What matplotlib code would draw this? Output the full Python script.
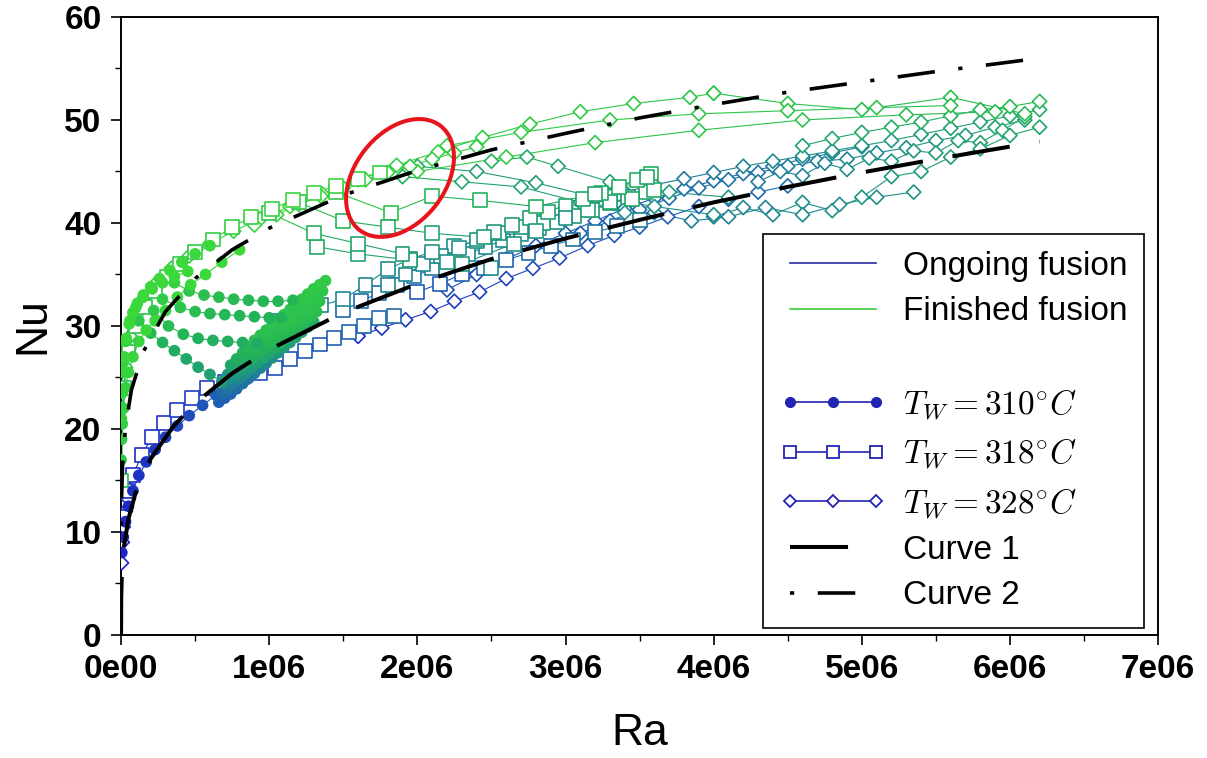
import numpy as np
import matplotlib
matplotlib.use('Agg')
import matplotlib.pyplot as plt
from matplotlib.colors import LinearSegmentedColormap
from matplotlib.collections import LineCollection
from matplotlib.lines import Line2D
from matplotlib.patches import Ellipse
from matplotlib.transforms import ScaledTranslation
from matplotlib.ticker import MultipleLocator, FuncFormatter

plt.rcParams['font.family'] = ['Liberation Sans', 'DejaVu Sans']
plt.rcParams['mathtext.fontset'] = 'cm'
plt.rcParams['lines.scale_dashes'] = False

# Ra in units of 1e6, Nu, and melt state f (0 = ongoing fusion, 1 = finished)
# ---- T_W = 310 C (filled circles)
ra_310_low = [0.005, 0.015, 0.03, 0.05, 0.08, 0.12, 0.17, 0.23, 0.30, 0.38, 0.46, 0.55, 0.64]
nu_310_low = [8.0, 9.5, 11.0, 12.5, 14.0, 15.5, 16.8, 18.0, 19.2, 20.3, 21.3, 22.3, 23.3]
f_310_low = [0.0, 0.0, 0.02, 0.04, 0.06, 0.08, 0.10, 0.12, 0.15, 0.18, 0.21, 0.25, 0.28]

ra_310_b1 = [0.66, 0.70, 0.74, 0.78, 0.82, 0.86, 0.90, 0.94, 0.98, 1.02, 1.06, 1.10, 1.14, 1.18, 1.22, 1.26, 1.30]
nu_310_b1 = [22.6, 23.0, 23.4, 23.9, 24.4, 24.9, 25.4, 25.9, 26.4, 26.9, 27.4, 27.9, 28.4, 28.9, 29.4, 29.9, 30.4]
f_310_b1 = [0.30, 0.32, 0.34, 0.37, 0.40, 0.43, 0.46, 0.50, 0.54, 0.58, 0.62, 0.65, 0.68, 0.70, 0.72, 0.74, 0.76]

ra_310_b4 = [0.68, 0.72, 0.76, 0.80, 0.84, 0.88, 0.92, 0.96, 1.00, 1.04, 1.08, 1.12, 1.16, 1.20, 1.24, 1.28, 1.32]
nu_310_b4 = [23.5, 23.9, 24.4, 24.9, 25.4, 25.9, 26.4, 26.9, 27.4, 27.9, 28.4, 28.9, 29.4, 29.9, 30.4, 30.9, 31.4]
f_310_b4 = [0.38, 0.42, 0.47, 0.52, 0.57, 0.62, 0.66, 0.70, 0.73, 0.76, 0.78, 0.80, 0.82, 0.83, 0.84, 0.85, 0.86]

ra_310_b2 = [0.70, 0.74, 0.78, 0.82, 0.86, 0.90, 0.94, 0.98, 1.02, 1.06, 1.10, 1.14, 1.18, 1.22, 1.26, 1.30, 1.34]
nu_310_b2 = [24.4, 24.9, 25.4, 25.9, 26.4, 26.9, 27.4, 27.9, 28.4, 28.9, 29.4, 29.9, 30.4, 30.9, 31.4, 31.9, 32.4]
f_310_b2 = [0.50, 0.56, 0.62, 0.67, 0.71, 0.75, 0.78, 0.80, 0.82, 0.83, 0.84, 0.85, 0.86, 0.87, 0.88, 0.88, 0.88]

ra_310_b5 = [0.72, 0.76, 0.80, 0.84, 0.88, 0.92, 0.96, 1.00, 1.04, 1.08, 1.12, 1.16, 1.20, 1.24, 1.28, 1.32, 1.36]
nu_310_b5 = [25.3, 25.9, 26.4, 26.9, 27.5, 28.0, 28.5, 29.0, 29.5, 30.0, 30.5, 31.0, 31.5, 32.0, 32.5, 33.0, 33.4]
f_310_b5 = [0.62, 0.68, 0.73, 0.77, 0.80, 0.82, 0.84, 0.85, 0.86, 0.87, 0.88, 0.88, 0.89, 0.89, 0.90, 0.90, 0.90]

ra_310_b3 = [0.74, 0.78, 0.82, 0.86, 0.90, 0.94, 0.98, 1.02, 1.06, 1.10, 1.14, 1.18, 1.22, 1.26, 1.30, 1.34, 1.38]
nu_310_b3 = [26.2, 26.8, 27.4, 28.0, 28.6, 29.1, 29.6, 30.1, 30.6, 31.1, 31.6, 32.1, 32.6, 33.1, 33.6, 34.0, 34.4]
f_310_b3 = [0.72, 0.76, 0.80, 0.83, 0.85, 0.86, 0.87, 0.88, 0.88, 0.89, 0.89, 0.90, 0.90, 0.91, 0.91, 0.92, 0.92]

ra_310_up = [0.0, 0.003, 0.008, 0.015, 0.03, 0.05, 0.08, 0.12, 0.17, 0.23, 0.30, 0.38, 0.47, 0.57, 0.68, 0.80]
nu_310_up = [17.0, 19.0, 20.5, 22.0, 24.0, 25.5, 27.0, 28.5, 29.6, 30.5, 31.5, 32.8, 34.0, 35.0, 36.2, 37.4]
f_310_up = [0.92, 0.93, 0.94, 0.95, 0.96, 0.97, 0.98, 0.98, 0.99, 0.99, 1.0, 1.0, 1.0, 1.0, 1.0, 1.0]

ra_310_up2 = [0.005, 0.015, 0.03, 0.06, 0.10, 0.15, 0.21, 0.28, 0.36, 0.45]
nu_310_up2 = [23.5, 26.5, 28.5, 30.5, 31.8, 32.8, 33.6, 34.2, 34.8, 35.3]
f_310_up2 = [0.95, 0.96, 0.97, 0.98, 0.99, 1.0, 1.0, 1.0, 1.0, 1.0]

ra_310_up3 = [0.002, 0.006, 0.012, 0.02, 0.035, 0.055, 0.08, 0.11, 0.15, 0.20, 0.26, 0.33, 0.41, 0.50, 0.60]
nu_310_up3 = [21.0, 23.5, 25.5, 27.0, 28.8, 30.2, 31.3, 32.2, 33.0, 33.8, 34.6, 35.4, 36.2, 37.0, 37.8]
f_310_up3 = [0.96, 0.97, 0.98, 0.99, 1.0, 1.0, 1.0, 1.0, 1.0, 1.0, 1.0, 1.0, 1.0, 1.0, 1.0]

ra_310_ta = [0.36, 0.46, 0.56, 0.66, 0.76, 0.86, 0.96, 1.06, 1.16]
nu_310_ta = [34.2, 33.4, 33.0, 32.8, 32.6, 32.5, 32.4, 32.4, 32.5]
f_310_ta = [0.95, 0.90, 0.87, 0.85, 0.84, 0.83, 0.82, 0.82, 0.82]

ra_310_tb = [0.28, 0.40, 0.50, 0.60, 0.70, 0.80, 0.90, 1.00, 1.08]
nu_310_tb = [32.6, 31.8, 31.4, 31.2, 31.1, 31.0, 30.9, 30.8, 30.8]
f_310_tb = [0.93, 0.88, 0.85, 0.83, 0.82, 0.81, 0.80, 0.80, 0.80]

ra_310_tc = [0.22, 0.32, 0.42, 0.52, 0.62, 0.72, 0.82, 0.92]
nu_310_tc = [31.5, 30.0, 29.2, 28.8, 28.6, 28.5, 28.4, 28.3]
f_310_tc = [0.92, 0.85, 0.81, 0.79, 0.78, 0.77, 0.76, 0.75]

ra_310_td = [0.12, 0.20, 0.28, 0.36, 0.44, 0.52, 0.60, 0.68]
nu_310_td = [30.5, 29.3, 28.4, 27.6, 26.8, 26.0, 25.3, 24.6]
f_310_td = [0.90, 0.83, 0.79, 0.76, 0.73, 0.70, 0.68, 0.66]

# ---- T_W = 318 C (open squares)
ra_318_r1 = [0.01, 0.04, 0.08, 0.14, 0.21, 0.29, 0.38, 0.48, 0.58, 0.70, 0.82, 0.94, 1.04, 1.14, 1.24, 1.34, 1.44, 1.54, 1.64, 1.74, 1.84]
nu_318_r1 = [11.5, 14.0, 15.5, 17.5, 19.2, 20.6, 21.8, 23.0, 24.0, 24.6, 25.0, 25.4, 25.9, 26.8, 27.6, 28.2, 28.8, 29.4, 30.0, 30.8, 31.0]
f_318_r1 = [0.0, 0.0, 0.02, 0.04, 0.06, 0.08, 0.10, 0.12, 0.14, 0.16, 0.18, 0.20, 0.22, 0.24, 0.26, 0.28, 0.30, 0.32, 0.34, 0.36, 0.38]

ra_318_r2 = [1.50, 1.62, 1.74, 1.86, 1.98, 2.10, 2.22, 2.34, 2.46, 2.58, 2.70, 2.82, 2.94, 3.06, 3.18, 3.30, 3.42, 3.54]
nu_318_r2 = [31.5, 32.4, 33.2, 34.0, 34.8, 35.6, 36.3, 37.0, 37.7, 38.3, 38.9, 39.5, 40.1, 40.7, 41.3, 41.9, 42.5, 43.0]
f_318_r2 = [0.35, 0.37, 0.39, 0.41, 0.43, 0.45, 0.47, 0.49, 0.51, 0.53, 0.55, 0.57, 0.59, 0.61, 0.63, 0.65, 0.67, 0.69]

ra_318_r3 = [1.80, 1.92, 2.04, 2.16, 2.28, 2.40, 2.52, 2.64, 2.76, 2.88, 3.00, 3.12, 3.24, 3.36, 3.48, 3.58]
nu_318_r3 = [34.0, 35.0, 36.0, 36.8, 37.6, 38.4, 39.1, 39.8, 40.5, 41.1, 41.7, 42.3, 42.9, 43.5, 44.2, 44.8]
f_318_r3 = [0.50, 0.52, 0.54, 0.56, 0.58, 0.60, 0.62, 0.64, 0.66, 0.68, 0.70, 0.72, 0.74, 0.76, 0.78, 0.80]

ra_318_r4 = [2.0, 2.15, 2.3, 2.45, 2.6, 2.75, 2.9, 3.05, 3.2, 3.35, 3.5]
nu_318_r4 = [33.3, 34.1, 35.0, 35.6, 36.4, 37.1, 37.8, 38.4, 39.1, 39.7, 40.3]
f_318_r4 = [0.25, 0.27, 0.29, 0.31, 0.33, 0.35, 0.37, 0.39, 0.41, 0.43, 0.45]

ra_318_r5 = [1.05, 1.20, 1.35, 1.50, 1.65, 1.80, 1.95, 2.10]
nu_318_r5 = [30.5, 31.5, 32.0, 32.6, 34.0, 35.5, 36.5, 37.2]
f_318_r5 = [0.45, 0.47, 0.49, 0.51, 0.53, 0.55, 0.57, 0.59]

ra_318_r6 = [2.1, 2.25, 2.4, 2.55, 2.7, 2.85, 3.0, 3.15, 3.3, 3.45, 3.6]
nu_318_r6 = [36.8, 37.8, 38.2, 39.0, 39.6, 40.0, 40.8, 41.3, 42.0, 42.3, 43.2]
f_318_r6 = [0.55, 0.57, 0.59, 0.61, 0.63, 0.65, 0.67, 0.69, 0.71, 0.73, 0.75]

ra_318_up = [0.0, 0.02, 0.05, 0.10, 0.16, 0.23, 0.31, 0.40, 0.50, 0.62, 0.75, 0.88, 1.02, 1.16, 1.30, 1.45, 1.60, 1.75]
nu_318_up = [15.0, 24.0, 27.5, 30.0, 31.8, 33.4, 34.8, 36.0, 37.2, 38.4, 39.6, 40.6, 41.4, 42.2, 42.9, 43.6, 44.3, 44.9]
f_318_up = [0.85, 0.86, 0.87, 0.88, 0.89, 0.90, 0.91, 0.92, 0.93, 0.94, 0.95, 0.96, 0.97, 0.98, 0.98, 0.98, 0.97, 0.96]

ra_318_t1 = [1.45, 1.82, 2.10, 2.42, 2.80, 3.20, 3.55]
nu_318_t1 = [43.0, 41.0, 42.6, 42.2, 41.6, 42.8, 44.5]
f_318_t1 = [0.92, 0.88, 0.84, 0.80, 0.76, 0.72, 0.70]

ra_318_t2 = [1.32, 1.60, 1.95, 2.30, 2.65, 3.00]
nu_318_t2 = [37.7, 37.0, 36.4, 36.0, 38.0, 40.5]
f_318_t2 = [0.75, 0.70, 0.66, 0.62, 0.60, 0.58]

ra_318_t3 = [1.00, 1.30, 1.60, 1.90, 2.20, 2.50]
nu_318_t3 = [41.0, 39.0, 38.0, 37.0, 36.2, 35.6]
f_318_t3 = [0.90, 0.80, 0.72, 0.66, 0.60, 0.55]

ra_318_t4 = [1.20, 1.50, 1.80, 2.10, 2.45, 2.80]
nu_318_t4 = [42.0, 40.2, 39.6, 39.0, 38.6, 39.2]
f_318_t4 = [0.90, 0.82, 0.76, 0.70, 0.65, 0.62]

# ---- T_W = 328 C (open diamonds)
ra_328_r0 = [0.003, 0.008, 0.015, 0.03, 0.05]
nu_328_r0 = [7.0, 9.0, 10.5, 12.0, 13.2]
f_328_r0 = [0.0, 0.0, 0.0, 0.02, 0.04]

ra_328_r1 = [1.60, 1.76, 1.92, 2.09, 2.25, 2.42, 2.60, 2.78, 2.96, 3.15, 3.33, 3.50, 3.69, 3.90, 4.10, 4.30, 4.50]
nu_328_r1 = [29.0, 29.8, 30.6, 31.4, 32.4, 33.3, 34.6, 35.6, 36.6, 37.8, 38.8, 39.6, 40.6, 41.6, 42.3, 43.0, 43.6]
f_328_r1 = [0.05, 0.07, 0.09, 0.11, 0.13, 0.15, 0.17, 0.19, 0.21, 0.23, 0.25, 0.27, 0.29, 0.31, 0.33, 0.35, 0.37]

ra_328_r2 = [2.20, 2.40, 2.60, 2.80, 3.00, 3.20, 3.40, 3.60, 3.80, 4.00, 4.20, 4.40, 4.60, 4.80, 5.00]
nu_328_r2 = [33.5, 35.0, 36.5, 37.8, 39.0, 40.2, 41.4, 42.4, 43.3, 44.1, 44.8, 45.5, 46.2, 46.8, 47.4]
f_328_r2 = [0.20, 0.22, 0.24, 0.26, 0.28, 0.30, 0.32, 0.34, 0.36, 0.38, 0.40, 0.43, 0.46, 0.49, 0.52]

ra_328_r3 = [3.0, 3.2, 3.4, 3.6, 3.8, 4.0, 4.2, 4.4, 4.6, 4.8, 5.0, 5.2, 5.4, 5.6, 5.8, 6.0, 6.2]
nu_328_r3 = [41.5, 42.3, 43.0, 43.7, 44.3, 44.9, 45.5, 46.0, 46.5, 47.0, 47.5, 48.0, 48.6, 49.2, 49.8, 50.4, 51.0]
f_328_r3 = [0.35, 0.375, 0.40, 0.425, 0.45, 0.475, 0.50, 0.525, 0.55, 0.575, 0.60, 0.625, 0.65, 0.675, 0.70, 0.725, 0.75]

ra_328_r4 = [4.0, 4.2, 4.4, 4.6, 4.8, 5.0, 5.2, 5.4, 5.6, 5.8, 6.0, 6.2]
nu_328_r4 = [40.6, 41.5, 40.8, 42.0, 41.2, 42.5, 44.5, 45.0, 46.4, 47.2, 48.5, 49.3]
f_328_r4 = [0.50, 0.52, 0.54, 0.56, 0.58, 0.60, 0.62, 0.64, 0.66, 0.68, 0.70, 0.72]

ra_328_r5 = [4.6, 4.8, 5.0, 5.2, 5.4, 5.6, 5.8, 6.0, 6.2]
nu_328_r5 = [47.5, 48.2, 48.8, 49.3, 49.8, 50.4, 51.0, 51.3, 51.8]
f_328_r5 = [0.70, 0.72, 0.74, 0.76, 0.78, 0.80, 0.82, 0.84, 0.85]

ra_328_r6 = [3.6, 3.85, 4.1, 4.35, 4.6, 4.85, 5.1, 5.35]
nu_328_r6 = [41.0, 40.2, 40.6, 41.5, 40.8, 41.8, 42.5, 43.0]
f_328_r6 = [0.45, 0.48, 0.50, 0.52, 0.54, 0.56, 0.58, 0.60]

ra_328_r7 = [3.1, 3.3, 3.5, 3.7, 3.9, 4.1, 4.3, 4.5, 4.7, 4.9, 5.1, 5.3, 5.5, 5.7, 5.9, 6.1]
nu_328_r7 = [39.0, 40.2, 41.3, 42.4, 43.4, 44.2, 44.9, 45.5, 46.0, 46.2, 46.8, 47.3, 48.0, 48.5, 49.3, 50.0]
f_328_r7 = [0.30, 0.32, 0.34, 0.36, 0.38, 0.40, 0.42, 0.45, 0.48, 0.51, 0.54, 0.57, 0.60, 0.63, 0.66, 0.70]

ra_328_r8 = [4.3, 4.45, 4.6, 4.75, 4.9, 5.05, 5.2, 5.35, 5.5, 5.65, 5.8, 5.95, 6.1]
nu_328_r8 = [44.0, 45.0, 44.6, 45.8, 45.2, 46.3, 46.0, 47.0, 46.8, 48.0, 47.8, 49.0, 50.3]
f_328_r8 = [0.45, 0.47, 0.50, 0.52, 0.55, 0.57, 0.60, 0.62, 0.65, 0.67, 0.70, 0.72, 0.75]

ra_328_up = [0.0, 0.01, 0.03, 0.06, 0.10, 0.16, 0.24, 0.34, 0.46, 0.60, 0.76, 0.94, 1.14, 1.36, 1.60, 1.86, 2.14, 2.44, 2.76, 3.10, 3.46, 3.84, 4.0]
nu_328_up = [14.5, 22.0, 26.0, 29.0, 31.0, 32.8, 34.2, 35.6, 36.8, 38.0, 39.2, 40.4, 41.6, 42.8, 44.2, 45.6, 46.9, 48.3, 49.6, 50.8, 51.6, 52.2, 52.6]
f_328_up = [0.85, 0.87, 0.89, 0.90, 0.91, 0.92, 0.93, 0.94, 0.95, 0.96, 0.97, 0.98, 0.98, 0.98, 0.97, 0.96, 0.95, 0.94, 0.93, 0.92, 0.91, 0.90, 0.90]

ra_328_up2 = [0.9, 1.05, 1.2, 1.35, 1.5, 1.65, 1.8, 1.95, 2.1, 2.25, 2.4]
nu_328_up2 = [39.8, 40.8, 41.8, 42.6, 43.4, 44.2, 44.9, 45.5, 46.2, 46.8, 47.4]
f_328_up2 = [0.97, 0.97, 0.96, 0.96, 0.95, 0.95, 0.95, 0.94, 0.94, 0.93, 0.93]

ra_328_t1 = [2.0, 2.6, 3.2, 3.9, 4.6, 5.3, 5.9]
nu_328_t1 = [45.0, 46.4, 47.8, 49.0, 50.0, 50.5, 50.8]
f_328_t1 = [0.95, 0.93, 0.91, 0.90, 0.88, 0.86, 0.85]

ra_328_t2 = [4.0, 4.5, 5.0, 5.6, 6.1]
nu_328_t2 = [52.6, 51.6, 51.0, 52.2, 50.6]
f_328_t2 = [0.90, 0.88, 0.87, 0.86, 0.85]

ra_328_t3 = [2.2, 2.7, 3.3, 3.9, 4.5, 5.1, 5.6]
nu_328_t3 = [47.5, 48.8, 50.0, 50.6, 50.9, 51.2, 51.4]
f_328_t3 = [0.95, 0.94, 0.93, 0.92, 0.90, 0.88, 0.86]

ra_328_t4 = [2.0, 2.4, 2.8, 3.2, 3.6, 4.0]
nu_328_t4 = [45.5, 45.0, 43.9, 42.5, 41.6, 40.8]
f_328_t4 = [0.75, 0.70, 0.66, 0.62, 0.58, 0.55]

ra_328_t5 = [2.5, 2.74, 2.95, 3.3, 3.7, 4.1]
nu_328_t5 = [46.0, 46.4, 45.5, 44.0, 43.0, 42.5]
f_328_t5 = [0.80, 0.76, 0.72, 0.68, 0.64, 0.60]

ra_328_t6 = [1.9, 2.3, 2.7, 3.1, 3.4]
nu_328_t6 = [44.5, 44.0, 43.5, 42.0, 41.0]
f_328_t6 = [0.78, 0.72, 0.68, 0.64, 0.60]

# ---- correlation curves
curve1_ra = [0, 0.001, 0.005, 0.02, 0.05, 0.1, 0.2, 0.35, 0.5, 0.75, 1.0, 1.5, 2.0, 2.5, 3.0, 3.5, 4.0, 4.5, 5.0, 5.5, 6.2]
curve1_nu = [0, 3.5, 5.7, 8.6, 11.3, 13.9, 17.1, 20.2, 22.5, 25.4, 27.7, 31.3, 34.1, 36.5, 38.5, 40.3, 42.0, 43.5, 44.9, 46.2, 47.9]
curve2_ra = [0.001, 0.003, 0.01, 0.03, 0.07, 0.15, 0.3, 0.5, 0.75, 1.0, 1.5, 2.0, 2.5, 3.0, 3.5, 4.0, 4.5, 5.0, 5.5, 6.2]
curve2_nu = [10.6, 13.0, 16.4, 20.2, 23.8, 27.5, 31.4, 34.6, 37.4, 39.5, 42.7, 45.1, 47.1, 48.7, 50.2, 51.5, 52.7, 53.7, 54.7, 56.0]

legend_labels = ['Ongoing fusion', 'Finished fusion', ' ',
                 r'$T_W = 310^{\circ}C$', r'$T_W = 318^{\circ}C$', r'$T_W = 328^{\circ}C$',
                 'Curve 1', 'Curve 2']

cmap = LinearSegmentedColormap.from_list(
    'fusion', [(0.0, '#1e22c8'), (0.3, '#1f5fb4'), (0.55, '#1f8c8c'),
               (0.8, '#22b25a'), (1.0, '#3ad83a')])

fig = plt.figure(figsize=(12.07, 7.58), dpi=100)
ax = fig.add_axes([0.1003, 0.1623, 0.8592, 0.8153])


def draw_run(ra, nu, f, marker, size, filled):
    x = np.asarray(ra) * 1e6
    y = np.asarray(nu)
    f = np.asarray(f)
    pts = np.column_stack([x, y])
    segs = np.stack([pts[:-1], pts[1:]], axis=1)
    ax.add_collection(LineCollection(segs, colors=cmap((f[:-1] + f[1:]) / 2),
                                     linewidths=0.8, zorder=2))
    cols = cmap(f)
    ax.scatter(x, y, s=size, marker=marker,
               facecolors=cols if filled else 'white',
               edgecolors=cols, linewidths=1.2, zorder=3)


runs_328 = [(ra_328_r0, nu_328_r0, f_328_r0), (ra_328_r1, nu_328_r1, f_328_r1),
            (ra_328_r2, nu_328_r2, f_328_r2), (ra_328_r7, nu_328_r7, f_328_r7),
            (ra_328_r3, nu_328_r3, f_328_r3), (ra_328_r8, nu_328_r8, f_328_r8),
            (ra_328_r4, nu_328_r4, f_328_r4), (ra_328_r5, nu_328_r5, f_328_r5),
            (ra_328_r6, nu_328_r6, f_328_r6), (ra_328_t4, nu_328_t4, f_328_t4),
            (ra_328_t5, nu_328_t5, f_328_t5), (ra_328_t6, nu_328_t6, f_328_t6),
            (ra_328_t1, nu_328_t1, f_328_t1), (ra_328_t2, nu_328_t2, f_328_t2),
            (ra_328_t3, nu_328_t3, f_328_t3), (ra_328_up, nu_328_up, f_328_up),
            (ra_328_up2, nu_328_up2, f_328_up2)]
runs_318 = [(ra_318_r1, nu_318_r1, f_318_r1), (ra_318_r4, nu_318_r4, f_318_r4),
            (ra_318_r2, nu_318_r2, f_318_r2), (ra_318_r6, nu_318_r6, f_318_r6),
            (ra_318_r3, nu_318_r3, f_318_r3),
            (ra_318_r5, nu_318_r5, f_318_r5), (ra_318_t1, nu_318_t1, f_318_t1),
            (ra_318_t2, nu_318_t2, f_318_t2), (ra_318_t3, nu_318_t3, f_318_t3),
            (ra_318_t4, nu_318_t4, f_318_t4), (ra_318_up, nu_318_up, f_318_up)]
runs_310 = [(ra_310_low, nu_310_low, f_310_low), (ra_310_b1, nu_310_b1, f_310_b1),
            (ra_310_b4, nu_310_b4, f_310_b4), (ra_310_b2, nu_310_b2, f_310_b2),
            (ra_310_b5, nu_310_b5, f_310_b5), (ra_310_b3, nu_310_b3, f_310_b3),
            (ra_310_ta, nu_310_ta, f_310_ta), (ra_310_tb, nu_310_tb, f_310_tb),
            (ra_310_tc, nu_310_tc, f_310_tc), (ra_310_td, nu_310_td, f_310_td),
            (ra_310_up, nu_310_up, f_310_up), (ra_310_up2, nu_310_up2, f_310_up2),
            (ra_310_up3, nu_310_up3, f_310_up3)]

for r in runs_328:
    draw_run(*r, marker='D', size=52, filled=False)
for r in runs_318:
    draw_run(*r, marker='s', size=100, filled=False)
for r in runs_310:
    draw_run(*r, marker='o', size=52, filled=True)

dash1 = (0, (41.8, 21.6))
dash2 = (0, (3.0, 17.0, 27.0, 17.0))
ax.plot(np.asarray(curve1_ra) * 1e6, curve1_nu, color='black', lw=2.9,
        linestyle=dash1, zorder=5)
ax.plot(np.asarray(curve2_ra) * 1e6, curve2_nu, color='black', lw=2.6,
        linestyle=dash2, zorder=5)

# red ellipse highlighting the region of interest
trans = fig.dpi_scale_trans + ScaledTranslation(1.883e6, 44.37, ax.transData)
ax.add_patch(Ellipse((0, 0), width=1.32, height=0.90, angle=52, transform=trans,
                     fill=False, edgecolor='#e8141c', lw=2.9, zorder=10))

ax.set_xlim(0, 7e6)
ax.set_ylim(0, 60)
ax.xaxis.set_major_locator(MultipleLocator(1e6))
ax.xaxis.set_minor_locator(MultipleLocator(0.5e6))
ax.yaxis.set_major_locator(MultipleLocator(10))
ax.yaxis.set_minor_locator(MultipleLocator(5))
ax.xaxis.set_major_formatter(FuncFormatter(lambda v, p: '{:.0e}'.format(v).replace('+', '')))
ax.tick_params(which='major', direction='out', length=7, width=1.2, labelsize=24, pad=7)
ax.tick_params(which='minor', direction='out', length=4, width=1.0)
plt.setp(ax.get_xticklabels() + ax.get_yticklabels(), fontweight='bold')
for s in ax.spines.values():
    s.set_linewidth(1.4)

ax.set_xlabel('Ra', fontsize=32, labelpad=20)
ax.set_ylabel('Nu', fontsize=32, labelpad=8)

handles = [Line2D([], [], color='#2b2ba6', lw=1.2),
           Line2D([], [], color='#3ccc3c', lw=1.2),
           Line2D([], [], linestyle='none'),
           Line2D([], [], color='#2424b4', lw=1.2, marker='o', ms=7, mfc='#2424b4', mec='#2424b4'),
           Line2D([], [], color='#2424b4', lw=1.2, marker='s', ms=8, mfc='white', mec='#2424b4', mew=1.3),
           Line2D([], [], color='#2424b4', lw=1.2, marker='D', ms=6, mfc='white', mec='#2424b4', mew=1.3),
           Line2D([], [], color='black', lw=2.9, linestyle=dash1),
           Line2D([], [], color='black', lw=2.6, linestyle=dash2)]
leg = ax.legend(handles, legend_labels, loc='lower right', bbox_to_anchor=(0.9865, 0.0113),
                fontsize=24, frameon=True, fancybox=False, edgecolor='black', framealpha=1,
                borderpad=0.5, labelspacing=0.43, handlelength=3.2, handletextpad=0.5,
                borderaxespad=0, numpoints=3)
leg.get_frame().set_linewidth(1.2)
leg.set_zorder(20)

fig.savefig('out.png', dpi=100)
